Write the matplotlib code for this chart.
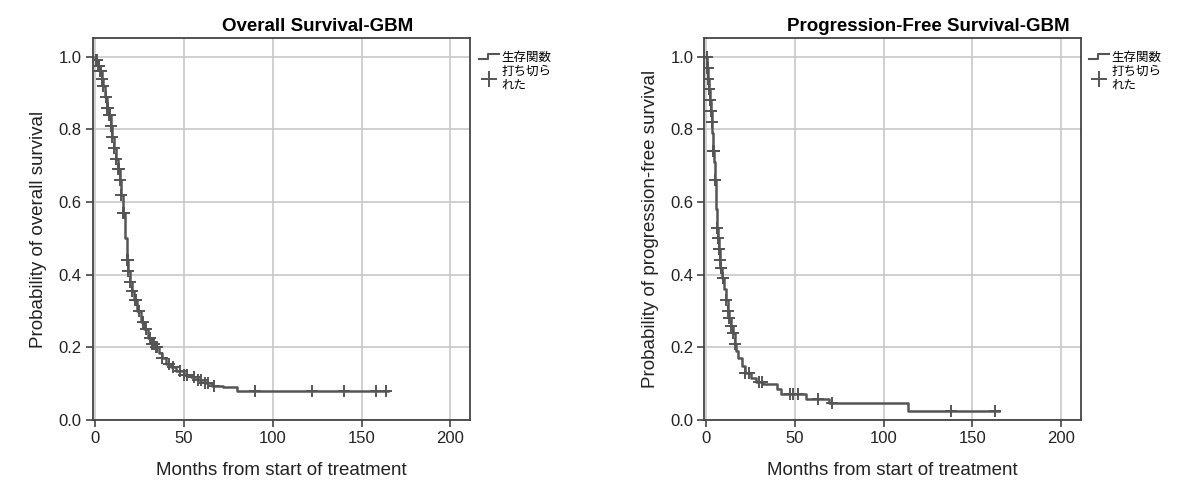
import numpy as np
import matplotlib
matplotlib.use('Agg')
import matplotlib.pyplot as plt
from matplotlib.lines import Line2D
from matplotlib.legend_handler import HandlerBase

plt.rcParams['font.family'] = ['Liberation Sans', 'Noto Sans CJK JP']

# Overall survival (step times and survival after each step)
os_t = [0, 1, 2, 3, 4, 5, 6, 7, 8, 9, 10, 11, 12, 13, 14, 15, 16, 17, 18, 19, 20,
        21, 22, 24, 26, 28, 30, 32, 34, 36, 38, 40, 43, 46, 50, 54, 58, 62, 66, 72, 80, 165]
os_s = [1.0, 0.99, 0.975, 0.96, 0.94, 0.92, 0.89, 0.86, 0.84, 0.81, 0.78, 0.75, 0.72, 0.69,
        0.66, 0.62, 0.57, 0.50, 0.44, 0.41, 0.38, 0.355, 0.33, 0.30, 0.27, 0.25, 0.225, 0.21,
        0.20, 0.185, 0.17, 0.155, 0.145, 0.135, 0.125, 0.118, 0.11, 0.103, 0.095, 0.09, 0.08, 0.08]
os_cens = [1, 1.5, 2, 2.5, 3, 3.5, 4, 5, 6.5, 7, 7.5, 8, 8.5, 9, 10, 11, 12, 13, 13.5, 14, 15,
           16, 16.5, 18, 18.2, 18.5, 18.8, 19, 20, 21, 22.5, 23, 25, 27, 29, 31, 32, 33, 33.5,
           34.5, 35, 38, 42, 44, 48, 50, 52, 56, 58, 60, 62, 64, 67, 90, 122, 140, 158, 164]

# Progression-free survival
pfs_t = [0, 0.5, 1, 1.5, 2, 2.5, 3, 3.5, 4, 4.5, 5, 5.5, 6, 6.5, 7, 7.5, 8, 9, 10, 11, 12, 13,
         14, 15, 16, 17, 18, 20, 22, 25, 28, 32, 36, 40, 42, 46, 56, 69, 114, 165]
pfs_s = [1.0, 0.97, 0.94, 0.91, 0.88, 0.85, 0.82, 0.79, 0.74, 0.71, 0.66, 0.58, 0.53, 0.50,
         0.47, 0.44, 0.42, 0.39, 0.36, 0.33, 0.30, 0.28, 0.26, 0.24, 0.21, 0.19, 0.17, 0.15,
         0.13, 0.115, 0.105, 0.10, 0.10, 0.085, 0.072, 0.072, 0.058, 0.047, 0.025, 0.025]
pfs_cens = [0.3, 0.6, 0.9, 1.2, 1.5, 1.8, 2, 2.2, 2.5, 3, 3.2, 4, 4.2, 4.4, 5.2, 6.2, 6.8, 7,
            7.2, 7.7, 8.2, 8.5, 9.2, 9.5, 11, 12.5, 13, 14, 15, 16, 22, 24, 30, 31.5, 47, 49,
            52, 63, 71, 138, 163]

titles = ['Overall Survival-GBM', 'Progression-Free Survival-GBM']
ylabels = ['Probability of overall survival', 'Probability of progression-free survival']
xlabel = 'Months from start of treatment'
legend_labels = ['生存関数', '打ち切ら\nれた']

col = '#555555'


class StepHandler(HandlerBase):
    def create_artists(self, legend, orig, xd, yd, w, h, fontsize, trans):
        xs = [xd, xd + w * 0.45, xd + w * 0.45, xd + w]
        ys = [yd + h * 0.3, yd + h * 0.3, yd + h * 0.8, yd + h * 0.8]
        ln = Line2D(xs, ys, color=col, lw=1.5, transform=trans)
        return [ln]


fig = plt.figure(figsize=(11.9, 4.92), dpi=100)
positions = [[0.078, 0.146, 0.317, 0.777], [0.592, 0.146, 0.316, 0.777]]
data = [(os_t, os_s, os_cens), (pfs_t, pfs_s, pfs_cens)]

for i in range(2):
    ax = fig.add_axes(positions[i])
    t, s, c = data[i]
    t = np.array(t)
    s = np.array(s)
    ax.step(t, s, where='post', color=col, lw=1.8, zorder=3)
    c = np.array(c)
    cy = s[np.searchsorted(t, c, side='right') - 1]
    ax.plot(c, cy, ls='none', marker='+', ms=8, mew=1.4, color=col, zorder=4)
    ax.set_xlim(-1, 211)
    ax.set_ylim(0, 1.052)
    ax.set_xticks([0, 50, 100, 150, 200])
    ax.set_yticks([0.0, 0.2, 0.4, 0.6, 0.8, 1.0])
    ax.set_yticklabels(['0.0', '0.2', '0.4', '0.6', '0.8', '1.0'])
    ax.grid(True, color='#c8c8c8', lw=1.2)
    ax.set_axisbelow(True)
    for sp in ax.spines.values():
        sp.set_color('#444444')
        sp.set_linewidth(1.3)
    ax.tick_params(direction='out', length=5, width=1.2, color='#444444', labelsize=12,
                   colors='#222222', pad=3)
    ax.set_title(titles[i], fontsize=13.5, fontweight='bold', pad=5, x=0.595)
    ax.set_xlabel(xlabel, fontsize=13.5, labelpad=11, color='#222222')
    ax.set_ylabel(ylabels[i], fontsize=13.5, color='#222222', labelpad=8)
    h1 = Line2D([], [], color=col)
    h2 = Line2D([], [], ls='none', marker='+', ms=12, mew=1.4, color=col)
    ax.legend([h1, h2], legend_labels, handler_map={h1: StepHandler()},
              loc='upper left', bbox_to_anchor=(1.0, 0.985), frameon=False,
              fontsize=9, handlelength=1.6, handletextpad=0.2,
              labelspacing=0.1, borderaxespad=0.3)

fig.savefig('out.png', dpi=100, facecolor='white')
